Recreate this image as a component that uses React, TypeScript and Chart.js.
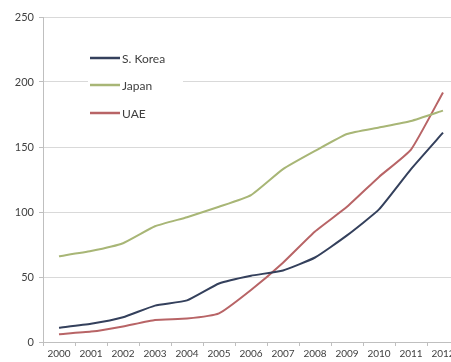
import React, { useEffect, useRef } from "react";
import { Chart, registerables } from "chart.js";

Chart.register(...registerables);

const years = ["2000", "2001", "2002", "2003", "2004", "2005", "2006", "2007", "2008", "2009", "2010", "2011", "2012"];
const korea = [11, 14, 19, 28, 32, 45, 51, 55, 65, 82, 102, 133, 161];
const japan = [66, 70, 76, 89, 96, 104, 113, 133, 147, 160, 165, 170, 178];
const uae = [6, 8, 12, 17, 18, 22, 40, 61, 85, 104, 127, 148, 192];
const yTicks = [0, 50, 100, 150, 200, 250];

const FONT = "Lato, 'Open Sans', sans-serif";

const legendPlugin = {
  id: "insideLegend",
  afterDatasetsDraw(chart: any) {
    const ctx = chart.ctx;
    const xs = chart.scales.x;
    const ys = chart.scales.y;
    const left = xs.left + 45;
    const top = ys.top + 28;
    ctx.save();
    ctx.fillStyle = "#ffffff";
    ctx.fillRect(left, top, 95, 82);
    const rows = [13, 40, 68];
    chart.data.datasets.forEach((ds: any, i: number) => {
      const y = top + rows[i];
      ctx.strokeStyle = ds.borderColor;
      ctx.lineWidth = 2.5;
      ctx.beginPath();
      ctx.moveTo(left + 2, y);
      ctx.lineTo(left + 32, y);
      ctx.stroke();
      ctx.fillStyle = "#404040";
      ctx.font = `12px ${FONT}`;
      ctx.textBaseline = "middle";
      ctx.textAlign = "left";
      ctx.fillText(ds.label, left + 34, y + 1);
    });
    ctx.restore();
  },
};

export default function App() {
  const ref = useRef<HTMLCanvasElement>(null);
  useEffect(() => {
    document.body.style.margin = "0";
    const chart = new Chart(ref.current!, {
      type: "line",
      data: {
        labels: years,
        datasets: [
          { label: "S. Korea", data: korea, borderColor: "#34405c", borderWidth: 2, pointRadius: 0, tension: 0.15 },
          { label: "Japan", data: japan, borderColor: "#a8b676", borderWidth: 2, pointRadius: 0, tension: 0.15 },
          { label: "UAE", data: uae, borderColor: "#b86466", borderWidth: 2, pointRadius: 0, tension: 0.15 },
        ],
      },
      options: {
        animation: false,
        responsive: false,
        devicePixelRatio: 1,
        layout: { padding: { top: 17, right: 11, bottom: 0, left: 0 } },
        plugins: { legend: { display: false }, tooltip: { enabled: false } },
        scales: {
          x: {
            offset: true,
            grid: { display: true, offset: true, drawOnChartArea: false, drawTicks: true, tickLength: 4, color: "#bfbfbf" },
            border: { color: "#bfbfbf" },
            ticks: { color: "#404040", font: { size: 10, family: FONT }, padding: 2, maxRotation: 0, autoSkip: false },
            afterFit: (s: any) => {
              s.height = 20;
              s.paddingLeft = 0;
              s.paddingRight = 0;
            },
          },
          y: {
            min: 0,
            max: 250,
            afterBuildTicks: (s: any) => {
              s.ticks = yTicks.map((v) => ({ value: v }));
            },
            grid: { color: "#d9d9d9", tickLength: 4, tickColor: "#bfbfbf" },
            border: { color: "#bfbfbf" },
            ticks: { color: "#404040", font: { size: 11, family: FONT }, padding: 5 },
            afterFit: (s: any) => {
              s.width = 43;
              s.paddingTop = 0;
              s.paddingBottom = 0;
            },
          },
        },
      },
      plugins: [legendPlugin],
    });
    return () => chart.destroy();
  }, []);
  return (
    <div style={{ position: "absolute", left: 0, top: 0, width: 451, height: 362, overflow: "hidden", background: "#fff" }}>
      <canvas ref={ref} width={470} height={362} style={{ width: 470, height: 362, display: "block" }} />
    </div>
  );
}
